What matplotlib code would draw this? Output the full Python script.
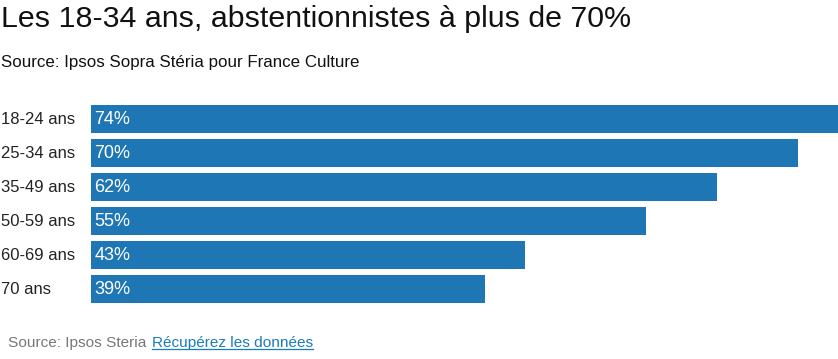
import matplotlib
matplotlib.use('Agg')
from matplotlib import pyplot as plt
from matplotlib.lines import Line2D

# Data
groups = ['18-24 ans', '25-34 ans', '35-49 ans', '50-59 ans', '60-69 ans', '70 ans']
values = [74, 70, 62, 55, 43, 39]

plt.rcParams['font.family'] = ['Liberation Sans', 'DejaVu Sans']

W, H = 838, 359
fig = plt.figure(figsize=(W / 100, H / 100), dpi=100)

def fx(px):
    return px / W

def fy(py):
    return 1 - py / H

# bar area in pixels
left, right, top, bottom = 91, 838, 102, 306
ax = fig.add_axes([fx(left), fy(bottom), fx(right - left), (bottom - top) / H])
ypos = list(range(len(groups)))
ax.barh(ypos, values, height=0.82, color='#1f76b4')
ax.set_xlim(0, 74)
ax.set_ylim(len(groups) - 0.5, -0.5)
ax.axis('off')

for y, v in zip(ypos, values):
    ax.text(0.35, y, f'{v}%', color='white', fontsize=13, va='center', ha='left')

for i, g in enumerate(groups):
    fig.text(fx(1), fy(top + 17 + 34 * i), g, fontsize=12, color='#222222',
             va='center', ha='left')

fig.text(fx(1), fy(19), 'Les 18-34 ans, abstentionnistes à plus de 70%',
         fontsize=21.9, color='#111111', va='center', ha='left')
fig.text(fx(1), fy(63), 'Source: Ipsos Sopra Stéria pour France Culture',
         fontsize=12.2, color='#111111', va='center', ha='left')

fig.text(fx(8), fy(343), 'Source: Ipsos Steria', fontsize=11.1, color='#777777',
         va='center', ha='left')
link = fig.text(fx(152), fy(343), 'Récupérez les données', fontsize=11.1,
                color='#1a7db8', va='center', ha='left')

fig.canvas.draw()
bb = link.get_window_extent().transformed(fig.transFigure.inverted())
fig.add_artist(Line2D([bb.x0, bb.x1], [bb.y0 + 0.002, bb.y0 + 0.002],
                      transform=fig.transFigure, color='#1a7db8', linewidth=0.9))

fig.savefig('out.png', dpi=100, facecolor='white')
